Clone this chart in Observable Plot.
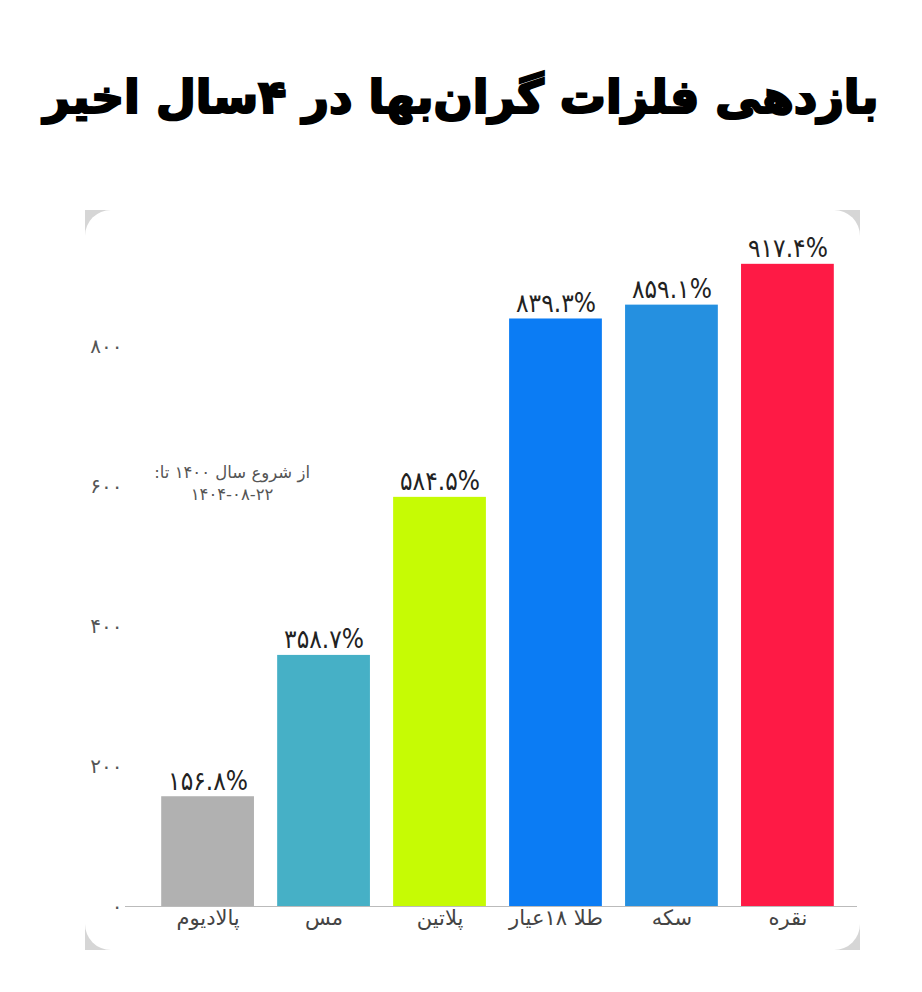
<!DOCTYPE html>
<html>
<head>
<meta charset="utf-8">
<script src="https://cdn.jsdelivr.net/npm/d3@7"></script>
<script src="https://cdn.jsdelivr.net/npm/@observablehq/plot@0.6"></script>
<style>
  html, body { margin: 0; padding: 0; background: #fff; }
  #page { position: relative; width: 922px; height: 992px; overflow: hidden; background: #fff; }
  #title { position: absolute; top: 70px; left: 0; width: 922px; text-align: center; white-space: nowrap;
    font-family: "DejaVu Sans", sans-serif; font-weight: 900; font-size: 46px; color: #000;
    -webkit-text-stroke: 2.2px #000; letter-spacing: -0.5px; }
  #cardbg { position: absolute; left: 85px; top: 210px; width: 775px; height: 740px; background: #d6d6d6; }
  #card { position: absolute; left: 85px; top: 210px; width: 775px; height: 740px; background: #fff; border-radius: 26px; }
  #chart { position: absolute; left: 0; top: 190px; }
</style>
</head>
<body>
<div id="page">
  <div id="title" dir="rtl">بازدهی فلزات گران‌بها در ۴سال اخیر</div>
  <div id="cardbg"></div>
  <div id="card"></div>
  <div id="chart"></div>
</div>
<script>
const metals = ["پالادیوم", "مس", "پلاتین", "طلا ۱۸عیار", "سکه", "نقره"];
const returns = [156.8, 358.7, 584.5, 839.3, 859.1, 917.4];
const barColors = ["#b1b1b1", "#46b0c6", "#c6fb04", "#0b7cf4", "#2590e0", "#fe1a45"];
const yTicks = [0, 200, 400, 600, 800];
const noteText = "از شروع سال ۱۴۰۰ تا:\u200F\n۱۴۰۴-۰۸-۲۲";
const noteMetal = "پالادیوم";
const noteValue = 607;

const faDigits = "۰۱۲۳۴۵۶۷۸۹";
const fa = s => String(s).replace(/[0-9]/g, d => faDigits[+d]);

const data = metals.map((m, i) => ({metal: m, value: returns[i], color: barColors[i]}));

const chart = Plot.plot({
  width: 922,
  height: 770,
  marginLeft: 138,
  marginRight: 65,
  marginTop: 16,
  marginBottom: 54,
  style: {background: "transparent", fontFamily: "DejaVu Sans, sans-serif"},
  x: {domain: metals, padding: 0.2, round: false, label: null},
  y: {domain: [0, 1000], label: null},
  marks: [
    Plot.barY(data, {x: "metal", y: "value", fill: d => d.color}),
    Plot.ruleY([0], {stroke: "#bbb", strokeWidth: 1.2, insetLeft: -13}),
    Plot.text(data, {x: "metal", y: "value", text: d => fa(d.value.toFixed(1)) + "%",
      lineAnchor: "bottom", dy: -7, fontSize: 26, fill: "#222",
      fontFamily: "DejaVu Sans Condensed, DejaVu Sans, sans-serif"}),
    Plot.text([noteText], {x: () => noteMetal, y: () => noteValue, text: d => d, dx: 24,
      fontSize: 16.5, fill: "#555", lineHeight: 1.35}),
    Plot.axisY({ticks: yTicks, tickSize: 0, tickPadding: 16, tickFormat: d => fa(d),
      fontSize: 20, fill: "#555", label: null}),
    Plot.axisX({tickSize: 0, tickPadding: 4, fontSize: 21, fill: "#444", label: null})
  ]
});
document.getElementById("chart").appendChild(chart);
</script>
</body>
</html>
